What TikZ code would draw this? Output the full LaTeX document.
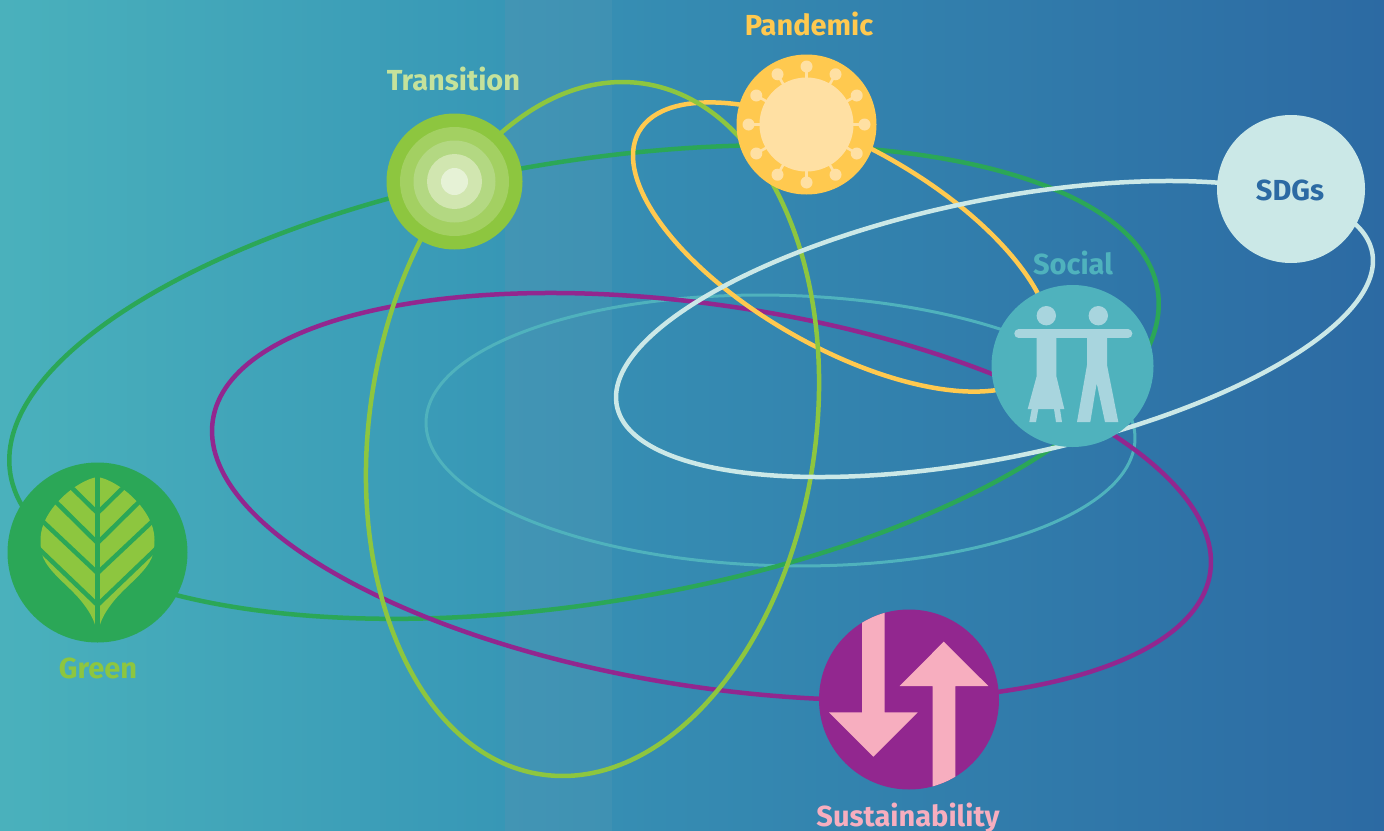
\documentclass[tikz,border=0pt]{standalone}
\usepackage{fontspec}
\setmainfont{Fira Sans}
\definecolor{cGreen}{HTML}{2BA757}
\definecolor{cLeaf}{HTML}{8DC63F}
\definecolor{cOrange}{HTML}{FFC94F}
\definecolor{cCream}{HTML}{FFE0A3}
\definecolor{cTeal}{HTML}{4FB2BD}
\definecolor{cPale}{HTML}{A8D5DE}
\definecolor{cMist}{HTML}{CBE8E7}
\definecolor{cPurple}{HTML}{92278F}
\definecolor{cPink}{HTML}{F7AEBF}
\definecolor{cBlue}{HTML}{2C6AA3}
\definecolor{cTransT}{HTML}{C5E29B}
\definecolor{bgA}{HTML}{4AB1BC}
\definecolor{bgB}{HTML}{3797B6}
\definecolor{bgC}{HTML}{4295B4}
\definecolor{bgD}{HTML}{3F91B3}
\definecolor{bgE}{HTML}{368EB3}
\tikzset{
  orbit/.style={line width=4.5pt},
  lbl/.style={anchor=base,font=\fontsize{29}{32}\selectfont\bfseries,inner sep=0pt},
  disc/.style={circle,minimum size=#1,inner sep=0pt,draw=none}
}
\begin{document}
\begin{tikzpicture}[x=1pt,y=-1pt]
\useasboundingbox (0,0) rectangle (1384,830);
% background
\fill[left color=bgA,right color=bgB] (0,0) rectangle (505.5,830);
\fill[left color=bgC,right color=bgD] (505,0) rectangle (612.5,830);
\fill[left color=bgE,right color=cBlue] (612,0) rectangle (1384,830);
% orbits
\draw[orbit,cTeal,line width=3pt,rotate around={-1.45:(780.5,430.5)}] (780.5,430.5) ellipse [x radius=354.6,y radius=135.2];
\draw[orbit,cGreen,rotate around={9.1:(584,382)}] (584,382) ellipse [x radius=581,y radius=221];
\draw[orbit,cPurple,rotate around={-8.74:(711.5,496.5)}] (711.5,496.5) ellipse [x radius=504.5,y radius=190.7];
\draw[orbit,cOrange,rotate around={-29.6:(842,247)}] (842,247) ellipse [x radius=233.5,y radius=100.3];
\draw[orbit,cLeaf,rotate around={81.6:(592.5,429)}] (592.5,429) ellipse [x radius=349.2,y radius=223.1];
\draw[orbit,cMist,rotate around={11.55:(994.5,329)}] (994.5,329) ellipse [x radius=385.4,y radius=128.9];
% Green disc
\node[disc=180pt,fill=cGreen] (green) at (97.5,552.5) {};
\fill[cLeaf] (97.5,477) .. controls (118,480) and (155,510) .. (154.5,540)
  .. controls (154.5,550) and (153,557) .. (149,563)
  .. controls (140,577) and (124,588) .. (113,602)
  .. controls (105,612) and (101,620) .. (99,628) -- (96,628)
  .. controls (94,620) and (90,612) .. (82,602)
  .. controls (71,588) and (55,577) .. (46,563)
  .. controls (42,557) and (40.5,550) .. (40.5,540)
  .. controls (40,510) and (77,480) .. (97.5,477) -- cycle;
\begin{scope}[cGreen,line width=4.5pt]
\draw (97.5,470) -- (97.5,632);
\draw (97.5,513) -- (126,485) (97.5,513) -- (69,485);
\draw (97.5,543) -- (142,499) (97.5,543) -- (53,499);
\draw (97.5,573) -- (158,516) (97.5,573) -- (37,516);
\draw (97.5,605) -- (158,547) (97.5,605) -- (37,547);
\end{scope}
% Transition disc
\node[disc=136pt,fill=cLeaf] (transition) at (454.5,181.5) {};
\node[disc=109pt,fill={rgb,255:red,163;green,208;blue,98}] at (454.5,181.5) {};
\node[disc=82pt,fill={rgb,255:red,179;green,216;blue,130}] at (454.5,181.5) {};
\node[disc=55pt,fill={rgb,255:red,209;green,230;blue,176}] at (454.5,181.5) {};
\node[disc=27pt,fill={rgb,255:red,230;green,242;blue,214}] at (454.5,181.5) {};
% Pandemic disc
\node[disc=140pt,fill=cOrange] (pandemic) at (806.5,124.5) {};
\foreach \a in {0,30,...,330}{
  \draw[cCream,line width=2.6pt] (806.5,124.5) -- ++(\a:58);
  \fill[cCream] (806.5,124.5) ++(\a:58) circle [radius=6];
}
\node[disc=94pt,fill=cCream] at (806.5,124.5) {};
% SDGs disc
\node[disc=148pt,fill=cMist] (sdgs) at (1291,189) {};
% Social disc
\node[disc=162pt,fill=cTeal] (social) at (1072.5,366) {};
\begin{scope}[cPale]
\fill (1046.3,315.7) circle [radius=9.7];
\fill (1098.3,315.7) circle [radius=9.7];
\draw[line width=8.7pt,line cap=round] (1018.6,333.7) -- (1128,333.7);
\fill (1036.7,333) -- (1056.3,333) -- (1056.3,376) -- (1064.3,409) -- (1027.7,409) -- (1036.7,376) -- cycle;
\fill (1031.7,409) -- (1029.3,422) -- (1036,422) -- (1038.3,409) -- cycle;
\fill (1054,409) -- (1056,422) -- (1062,422) -- (1060,409) -- cycle;
\fill (1087,333) -- (1107,333) -- (1107,365) -- (1118.3,422) -- (1105,422) -- (1096.7,383.3) -- (1090.3,422) -- (1077,422) -- (1087,365) -- cycle;
\end{scope}
% Sustainability disc
\node[disc=180pt,fill=cPurple] (sustain) at (909,699.5) {};
\begin{scope}
\clip (909,699.5) circle [radius=90];
\fill[cPink] (862,600) -- (884.7,600) -- (884.7,712.3) -- (917.7,712.3) -- (873.3,756.7) -- (829,712.3) -- (862,712.3) -- cycle;
\fill[cPink] (943.7,641.7) -- (988.3,686) -- (955.3,686) -- (955.3,800) -- (932.7,800) -- (932.7,686) -- (899.7,686) -- cycle;
\end{scope}
% labels
\node[lbl,text=cOrange] (tPandemic) at (809,35) {Pandemic};
\node[lbl,text=cTransT] (tTransition) at (453.5,90) {Transition};
\node[lbl,text=cLeaf] (tGreen) at (98,678) {Green};
\node[lbl,text=cTeal] (tSocial) at (1073,274) {Social};
\node[lbl,text=cBlue] (tSDGs) at (1290,200) {SDGs};
\node[lbl,text=cPink] (tSustain) at (908,826) {Sustainability};
\end{tikzpicture}
\end{document}
